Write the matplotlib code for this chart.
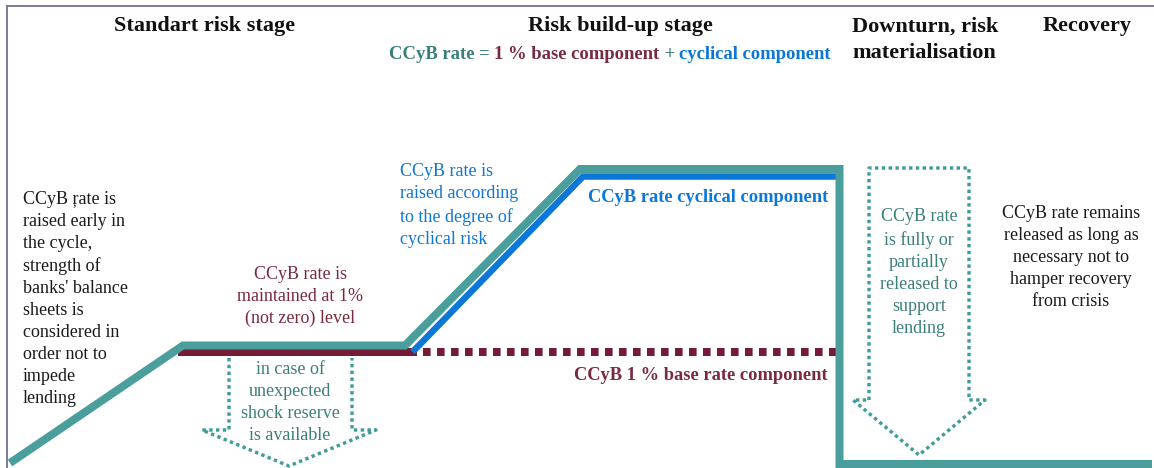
import matplotlib.pyplot as plt

plt.rcParams['font.family'] = ['Liberation Serif', 'DejaVu Serif']

# colours
TEAL = '#4a9e9c'
TEAL_TXT = '#3b7f7b'
MAROON = '#741c36'
MAROON_TXT = '#7a2a3e'
BLUE = '#0b77d9'
FRAME = '#7d7d9c'

# CCyB path through the cycle (x = time, y = drawing level, top = high)
teal_x = [10, 183, 405, 580, 839.5, 839.5, 1152]
teal_y = [463, 345.5, 345.5, 169, 169, 464, 464]

base_solid_x = [178, 417]
base_dot_x = [423, 836]
base_y = 352

cyc_x = [412.5, 583, 836]
cyc_y = [352, 176.5, 176.5]

# release arrows (dotted outlines)
arrow1_x = [229, 229, 202, 289, 376, 352, 352]
arrow1_y = [358, 430, 430, 466, 430, 430, 358]
arrow2_x = [869, 869, 969, 969, 985, 919, 853, 869]
arrow2_y = [400, 168, 168, 400, 400, 455, 400, 400]

stage_titles = ['Standart risk stage', 'Risk build-up stage',
                'Downturn, risk\nmaterialisation', 'Recovery']

PX = 0.72  # points per pixel at dpi 100

fig = plt.figure(figsize=(11.54, 4.68), dpi=100)
ax = fig.add_axes([0, 0, 1, 1])
ax.set_xlim(0, 1154)
ax.set_ylim(468, 0)
ax.axis('off')

# frame
ax.plot([7, 7, 1154], [468, 6, 6], color=FRAME, lw=2 * PX, solid_joinstyle='miter')

# base component
ax.plot(base_solid_x, [base_y] * 2, color=MAROON, lw=8 * PX, solid_capstyle='butt')
ax.plot(base_dot_x, [base_y] * 2, color=MAROON, lw=8 * PX,
        linestyle=(0, (0.95, 0.8)), dash_capstyle='butt')
# cyclical component
ax.plot(cyc_x, cyc_y, color=BLUE, lw=6.5 * PX, solid_capstyle='butt', solid_joinstyle='miter')
# total CCyB rate
ax.plot(teal_x, teal_y, color=TEAL, lw=8 * PX, solid_capstyle='butt', solid_joinstyle='miter')

dot_style = dict(color='#3f9c9a', lw=3.4 * PX, linestyle=(0, (1.0, 1.0)),
                 dash_capstyle='butt')
ax.plot(arrow1_x, arrow1_y, **dot_style)
ax.plot(arrow2_x, arrow2_y, **dot_style)

# stage headings
hd = dict(fontsize=16, fontweight='bold', color='#111111', va='center')
ax.text(205, 26, stage_titles[0], ha='center', **hd)
ax.text(620, 26, stage_titles[1], ha='center', **hd)
ax.text(852, 40, stage_titles[2], ha='left', linespacing=1.42, **hd)
ax.text(1087, 26, stage_titles[3], ha='center', **hd)

# multicoloured formula line
parts = [('CCyB rate = ', TEAL_TXT), ('1 % base component', MAROON_TXT),
         (' + ', TEAL_TXT), ('cyclical component', BLUE)]
fig.canvas.draw()
r = fig.canvas.get_renderer()
widths = []
items = []
for s, c in parts:
    t = ax.text(0, 59, s, fontsize=13.4, fontweight='bold', color=c,
                ha='left', va='baseline')
    w = t.get_window_extent(r).width
    widths.append(w)
    items.append(t)
x0 = 610 - sum(widths) / 2
for t, w in zip(items, widths):
    t.set_x(x0)
    x0 += w

body = dict(fontsize=13, linespacing=1.39)
ax.text(23, 299, "CCyB ŗate is\nraised early in\nthe cycle,\nstrength of\nbanks' balance\n"
        "sheets is\nconsidered in\norder not to\nimpede\nlending",
        ha='left', va='center', color='#1a1a1a', **body)
ax.text(300, 296.5, "CCyB rate is\nmaintained at 1%\n(not zero) level",
        ha='center', va='center', color=MAROON_TXT, **body)
ax.text(290, 402.5, "in case of\nunexpected\nshock reserve\nis available",
        ha='center', va='center', color=TEAL_TXT, **body)
ax.text(400, 205.5, "CCyB rate is\nraised according\nto the degree of\ncyclical risk",
        ha='left', va='center', color=BLUE, **body)
ax.text(919, 272.5, "CCyB rate\nis fully or\npartially\nreleased to\nsupport\nlending",
        ha='center', va='center', color=TEAL_TXT, **body)
ax.text(1071, 257.5, "CCyB rate remains\nreleased as long as\nnecessary not to\nhamper recovery\nfrom crisis",
        ha='center', va='center', color='#1a1a1a', **body)

ax.text(828, 197, 'CCyB rate cyclical component', ha='right', va='center',
        fontsize=13.3, fontweight='bold', color=BLUE)
ax.text(828, 376, 'CCyB 1 % base rate component', ha='right', va='center',
        fontsize=13.3, fontweight='bold', color=MAROON_TXT)

fig.savefig('out.png', dpi=100)
